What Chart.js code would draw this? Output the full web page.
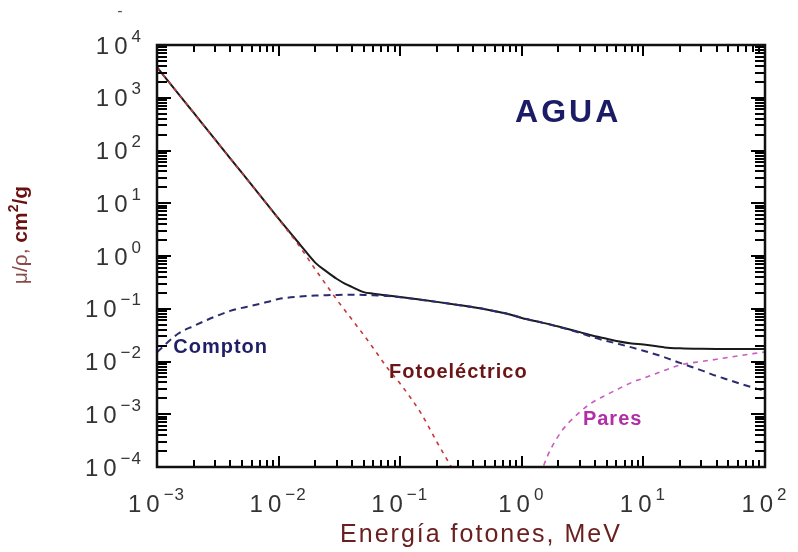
<!DOCTYPE html>
<html>
<head>
<meta charset="utf-8">
<script src="https://cdn.jsdelivr.net/npm/chart.js@4.4.1/dist/chart.umd.min.js"></script>
<style>
  html, body { margin: 0; padding: 0; background: #fff; }
  #wrap { width: 798px; height: 552px; }
</style>
</head>
<body>
<div id="wrap"><canvas id="chart" width="798" height="552"></canvas></div>
<script>
// photon energy (MeV) and mass attenuation coefficients (cm2/g) for water
const energy = [0.001, 0.0015, 0.002, 0.003, 0.004, 0.005, 0.006, 0.008, 0.01, 0.015,
  0.02, 0.025, 0.03, 0.035, 0.04, 0.05, 0.06, 0.08, 0.1, 0.15, 0.2, 0.3,
  0.4, 0.5, 0.6, 0.8, 1, 1.5, 2, 3, 4, 5,
  6, 8, 10, 15, 20, 30, 40, 50, 60, 80, 100];

const total = [3800, 1190, 520, 162, 71, 37.5, 22.3, 9.7, 5.1, 1.65,
  0.75, 0.5, 0.37, 0.3, 0.26, 0.207, 0.193, 0.178, 0.167, 0.148, 0.135, 0.118,
  0.107, 0.098, 0.09, 0.078, 0.067, 0.054, 0.046, 0.036, 0.030, 0.027,
  0.0245, 0.022, 0.021, 0.0185, 0.0178, 0.0174, 0.0173, 0.0173, 0.0173, 0.0173, 0.0173];

const compton = [0.015, 0.034, 0.047, 0.071, 0.091, 0.104, 0.114, 0.134, 0.153, 0.17,
  0.178, 0.181, 0.183, 0.184, 0.184, 0.183, 0.18, 0.174, 0.165, 0.147, 0.135, 0.118,
  0.107, 0.098, 0.09, 0.078, 0.067, 0.054, 0.0455, 0.035, 0.028, 0.0245,
  0.022, 0.0185, 0.016, 0.012, 0.0094, 0.0068, 0.0053, 0.0045, 0.0039, 0.0032, 0.0028];

const photoEnergy = [0.001, 0.0015, 0.002, 0.003, 0.004, 0.005, 0.006, 0.008, 0.01, 0.015,
  0.02, 0.025, 0.03, 0.04, 0.05, 0.06, 0.08, 0.1, 0.15, 0.2, 0.3];
const photo = [3800, 1190, 520, 162, 71, 37.5, 22.3, 9.7, 5.0, 1.48,
  0.56, 0.27, 0.15, 0.063, 0.032, 0.018, 0.0071, 0.0038, 0.001, 0.0003, 0.00006];

const pairEnergy = [1.3, 1.5, 2, 3, 4, 5, 6, 8, 10, 15, 20, 30, 40, 50, 60, 80, 100];
const pares = [0.00003, 0.0001, 0.00039, 0.0011, 0.0018, 0.00235, 0.0029, 0.004, 0.0048,
  0.0068, 0.0086, 0.01, 0.011, 0.012, 0.0128, 0.0141, 0.0151];

// axis decades (exponents of 10) and minor tick multipliers
const xExps = [-3, -2, -1, 0, 1, 2];
const yExps = [-4, -3, -2, -1, 0, 1, 2, 3, 4];
const minorSteps = [1, 2, 3, 4, 5, 6, 7, 8, 9];

// curve labels, anchored in data space (energy, mu/rho)
const curveLabels = [
  { text: 'Compton', at: [0.00136, 0.0188], color: '#1f1f66', size: 20, spacing: 1 },
  { text: 'Fotoeléctrico', at: [0.081, 0.0063], color: '#6b1515', size: 20, spacing: 1 },
  { text: 'Pares', at: [3.18, 0.00078], color: '#b02ea6', size: 20, spacing: 1 },
  { text: 'AGUA', at: [0.88, 515], color: '#1b1b66', size: 32, spacing: 3 }
];

const pts = (xs, ys) => xs.map((v, i) => ({ x: v, y: ys[i] }));

function drawPower(ctx, e, x, baseline, align) {
  const sup = e < 0 ? '\u2212' + (-e) : String(e);
  ctx.font = '24px "Liberation Sans"';
  ctx.letterSpacing = '5px';
  const wb = ctx.measureText('10').width;
  ctx.font = '17px "Liberation Sans"';
  ctx.letterSpacing = '1px';
  const ws = ctx.measureText(sup).width;
  const left = align === 'center' ? x - (wb + ws) / 2 : x - (wb + ws);
  ctx.textAlign = 'left';
  ctx.textBaseline = 'alphabetic';
  ctx.font = '24px "Liberation Sans"';
  ctx.letterSpacing = '5px';
  ctx.fillText('10', left, baseline);
  ctx.font = '17px "Liberation Sans"';
  ctx.letterSpacing = '1px';
  ctx.fillText(sup, left + wb - 1, baseline - 12);
}

const decorations = {
  id: 'decorations',
  afterDraw(chart) {
    const ctx = chart.ctx;
    const a = chart.chartArea;
    const x = chart.scales.x, y = chart.scales.y;
    ctx.save();

    // inward ticks on all four sides
    ctx.fillStyle = '#000';
    xExps.forEach(d => {
      minorSteps.forEach(k => {
        const v = k * Math.pow(10, d);
        if (v > 100.01) return;
        const px = Math.round(x.getPixelForValue(v));
        const len = k === 1 ? 11 : 7;
        ctx.fillRect(px - 1, a.bottom - len, 2, len);
        ctx.fillRect(px - 1, a.top, 2, len);
      });
    });
    yExps.forEach(d => {
      minorSteps.forEach(k => {
        const v = k * Math.pow(10, d);
        if (v > 10000.1) return;
        const py = Math.round(y.getPixelForValue(v));
        const len = k === 1 ? 14 : 10;
        ctx.fillRect(a.left, py - 1, len, 2);
        ctx.fillRect(a.right - len, py - 1, len, 2);
      });
    });

    // frame
    ctx.strokeStyle = '#111';
    ctx.lineWidth = 2.5;
    ctx.strokeRect(a.left, a.top, a.right - a.left, a.bottom - a.top);

    // tick labels
    ctx.fillStyle = '#333';
    xExps.forEach(d => drawPower(ctx, d, x.getPixelForValue(Math.pow(10, d)), a.bottom + 45, 'center'));
    yExps.forEach(d => drawPower(ctx, d, a.left - 14, y.getPixelForValue(Math.pow(10, d)) + 8.5, 'right'));

    // curve labels
    curveLabels.forEach(l => {
      ctx.font = 'bold ' + l.size + 'px "Liberation Sans"';
      ctx.letterSpacing = l.spacing + 'px';
      ctx.fillStyle = l.color;
      ctx.textAlign = 'left';
      ctx.textBaseline = 'middle';
      ctx.fillText(l.text, x.getPixelForValue(l.at[0]), y.getPixelForValue(l.at[1]));
    });

    // x axis title
    ctx.font = '25px "Liberation Sans"';
    ctx.letterSpacing = '2px';
    ctx.fillStyle = '#6b2020';
    ctx.textAlign = 'center';
    ctx.textBaseline = 'alphabetic';
    ctx.fillText('Energía fotones, MeV', (a.left + a.right) / 2 + 20, a.bottom + 75);

    // y axis title (rotated), mixed weights and superscript
    ctx.translate(21, 235);
    ctx.rotate(-Math.PI / 2);
    ctx.letterSpacing = '0px';
    ctx.textAlign = 'left';
    ctx.textBaseline = 'middle';
    const parts = [
      { t: '\u03bc/\u03c1, ', f: '21px "Liberation Sans"', c: '#8a4a4a', dy: 0 },
      { t: 'cm', f: 'bold 21px "Liberation Sans"', c: '#6b1010', dy: 0 },
      { t: '2', f: 'bold 14px "Liberation Sans"', c: '#6b1010', dy: -7 },
      { t: '/g', f: 'bold 21px "Liberation Sans"', c: '#6b1010', dy: 0 }
    ];
    let w = 0;
    parts.forEach(p => { ctx.font = p.f; p.w = ctx.measureText(p.t).width; w += p.w; });
    let cx = -w / 2;
    parts.forEach(p => {
      ctx.font = p.f; ctx.fillStyle = p.c;
      ctx.fillText(p.t, cx, p.dy);
      cx += p.w;
    });
    ctx.restore();

    // small stray mark above the frame
    ctx.save();
    ctx.fillStyle = '#555';
    ctx.font = '16px "Liberation Sans"';
    ctx.textAlign = 'center';
    ctx.fillText('-', 120, 16);
    ctx.restore();
  }
};

new Chart(document.getElementById('chart'), {
  type: 'line',
  data: {
    datasets: [
      {
        label: 'Fotoeléctrico',
        data: pts(photoEnergy, photo),
        borderColor: '#c4383a',
        borderWidth: 1.6,
        borderDash: [4, 5],
        order: 0
      },
      {
        label: 'Total',
        data: pts(energy, total),
        borderColor: '#1a1a1a',
        borderWidth: 2,
        order: 2
      },
      {
        label: 'Compton',
        data: pts(energy, compton),
        borderColor: '#2b2b70',
        borderWidth: 2,
        borderDash: [7, 5],
        order: 1
      },
      {
        label: 'Pares',
        data: pts(pairEnergy, pares),
        borderColor: '#c85cc0',
        borderWidth: 1.6,
        borderDash: [5, 5],
        order: 3
      }
    ]
  },
  options: {
    responsive: false,
    animation: false,
    elements: {
      point: { radius: 0, hoverRadius: 0 },
      line: { fill: false, cubicInterpolationMode: 'monotone' }
    },
    layout: { padding: { left: 157, right: 33, top: 45, bottom: 85 } },
    plugins: {
      legend: { display: false },
      tooltip: { enabled: false }
    },
    scales: {
      x: { type: 'logarithmic', min: 0.001, max: 100, display: false },
      y: { type: 'logarithmic', min: 0.0001, max: 10000, display: false }
    }
  },
  plugins: [decorations]
});
</script>
</body>
</html>
